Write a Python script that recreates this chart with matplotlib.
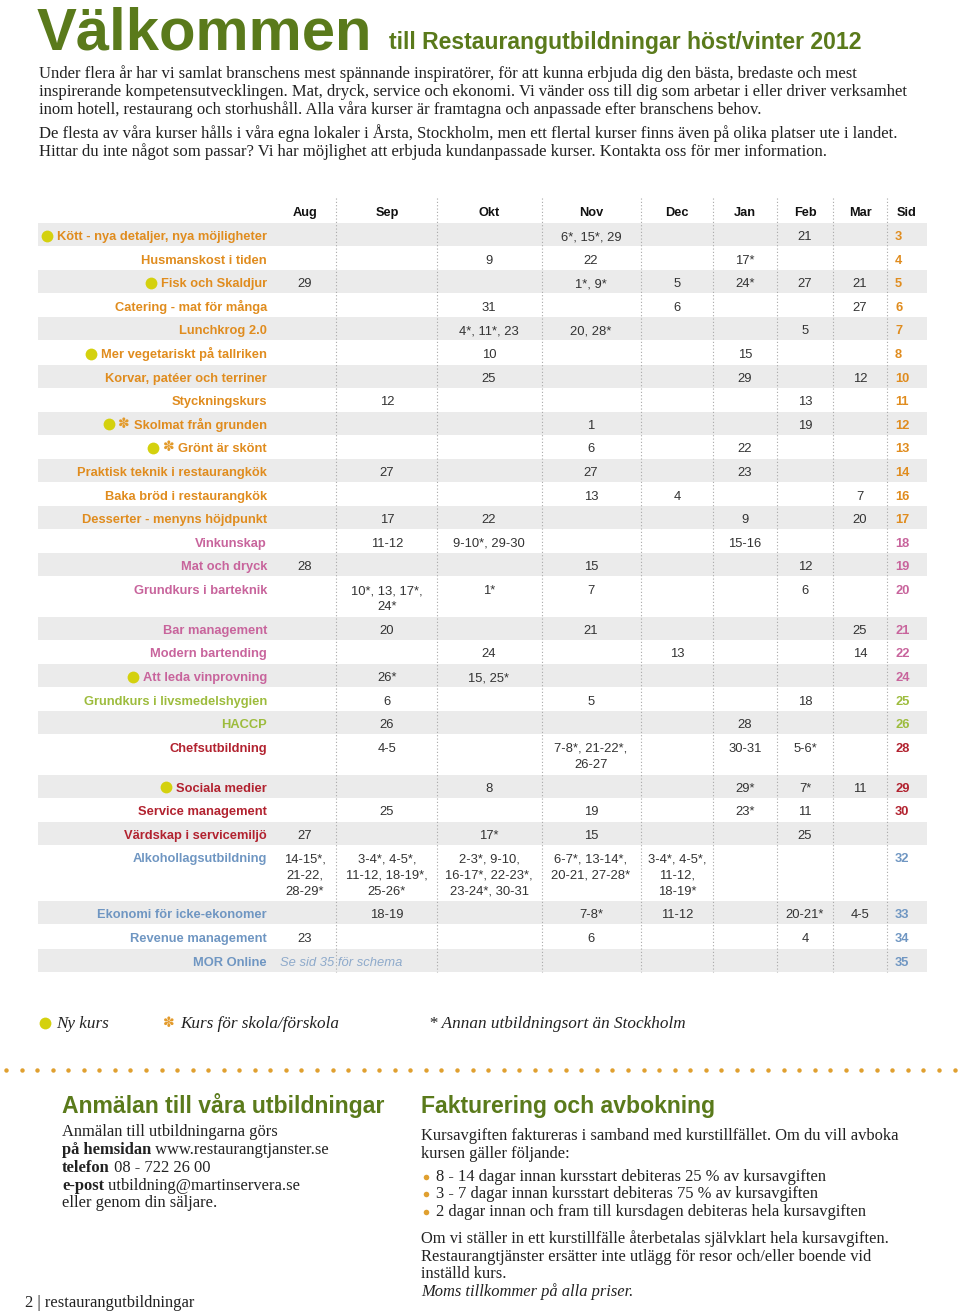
import matplotlib.pyplot as plt
import numpy as np
from matplotlib.patches import Rectangle

# ---- data ----
months = ["Aug", "Sep", "Okt", "Nov", "Dec", "Jan", "Feb", "Mar"]

courses = [
    "Kött - nya detaljer, nya möjligheter", "Husmanskost i tiden", "Fisk och Skaldjur",
    "Catering - mat för många", "Lunchkrog 2.0", "Mer vegetariskt på tallriken",
    "Korvar, patéer och terriner", "Styckningskurs", "Skolmat från grunden",
    "Grönt är skönt", "Praktisk teknik i restaurangkök", "Baka bröd i restaurangkök",
    "Desserter - menyns höjdpunkt", "Vinkunskap", "Mat och dryck",
    "Grundkurs i barteknik", "Bar management", "Modern bartending",
    "Att leda vinprovning", "Grundkurs i livsmedelshygien", "HACCP",
    "Chefsutbildning", "Sociala medier", "Service management",
    "Värdskap i servicemiljö", "Alkohollagsutbildning", "Ekonomi för icke-ekonomer",
    "Revenue management", "MOR Online",
]

groups = (["mat"] * 13 + ["dryck"] * 6 + ["hygien"] * 2 + ["ledare"] * 4
          + ["ekonomi"] * 4)

pages = ["3", "4", "5", "6", "7", "8", "10", "11", "12", "13", "14", "16", "17",
         "18", "19", "20", "21", "22", "24", "25", "26", "28", "29", "30", "",
         "32", "33", "34", "35"]

new_courses = ["Kött - nya detaljer, nya möjligheter", "Fisk och Skaldjur",
               "Mer vegetariskt på tallriken", "Skolmat från grunden",
               "Grönt är skönt", "Att leda vinprovning", "Sociala medier"]
school_courses = ["Skolmat från grunden", "Grönt är skönt"]

dates = [
    ["", "", "", "6*, 15*, 29", "", "", "21", ""],
    ["", "", "9", "22", "", "17*", "", ""],
    ["29", "", "", "1*, 9*", "5", "24*", "27", "21"],
    ["", "", "31", "", "6", "", "", "27"],
    ["", "", "4*, 11*, 23", "20, 28*", "", "", "5", ""],
    ["", "", "10", "", "", "15", "", ""],
    ["", "", "25", "", "", "29", "", "12"],
    ["", "12", "", "", "", "", "13", ""],
    ["", "", "", "1", "", "", "19", ""],
    ["", "", "", "6", "", "22", "", ""],
    ["", "27", "", "27", "", "23", "", ""],
    ["", "", "", "13", "4", "", "", "7"],
    ["", "17", "22", "", "", "9", "", "20"],
    ["", "11-12", "9-10*, 29-30", "", "", "15-16", "", ""],
    ["28", "", "", "15", "", "", "12", ""],
    ["", "10*, 13, 17*,\n24*", "1*", "7", "", "", "6", ""],
    ["", "20", "", "21", "", "", "", "25"],
    ["", "", "24", "", "13", "", "", "14"],
    ["", "26*", "15, 25*", "", "", "", "", ""],
    ["", "6", "", "5", "", "", "18", ""],
    ["", "26", "", "", "", "28", "", ""],
    ["", "4-5", "", "7-8*, 21-22*,\n26-27", "", "30-31", "5-6*", ""],
    ["", "", "8", "", "", "29*", "7*", "11"],
    ["", "25", "", "19", "", "23*", "11", ""],
    ["27", "", "17*", "15", "", "", "25", ""],
    ["14-15*,\n21-22,\n28-29*", "3-4*, 4-5*,\n11-12, 18-19*,\n25-26*",
     "2-3*, 9-10,\n16-17*, 22-23*,\n23-24*, 30-31", "6-7*, 13-14*,\n20-21, 27-28*",
     "3-4*, 4-5*,\n11-12,\n18-19*", "", "", ""],
    ["", "18-19", "", "7-8*", "11-12", "", "20-21*", "4-5"],
    ["23", "", "", "6", "", "", "4", ""],
    ["", "", "", "", "", "", "", ""],
]
mor_note = "Se sid 35 för schema"

intro = [
    "Under flera år har vi samlat branschens mest spännande inspiratörer, för att kunna erbjuda dig den bästa, bredaste och mest",
    "inspirerande kompetensutvecklingen. Mat, dryck, service och ekonomi. Vi vänder oss till dig som arbetar i eller driver verksamhet",
    "inom hotell, restaurang och storhushåll. Alla våra kurser är framtagna och anpassade efter branschens behov.",
    "De flesta av våra kurser hålls i våra egna lokaler i Årsta, Stockholm, men ett flertal kurser finns även på olika platser ute i landet.",
    "Hittar du inte något som passar? Vi har möjlighet att erbjuda kundanpassade kurser. Kontakta oss för mer information.",
]

# ---- style ----
SANS = "Liberation Sans"
SERIF = "Liberation Serif"
OLIVE = "#5a7a1b"
TXT = "#333333"
colors = {"mat": "#e08c1e", "dryck": "#c8649c", "hygien": "#9dbc3d",
          "ledare": "#b2222f", "ekonomi": "#6f96c2"}
YELLOW = "#d4d10e"
FLOWER = "#e39a2a"

W, H = 960, 1312
fig = plt.figure(figsize=(9.6, 13.12), dpi=100)
ax = fig.add_axes([0, 0, 1, 1])
ax.set_xlim(0, W)
ax.set_ylim(H, 0)
ax.axis("off")
renderer = fig.canvas.get_renderer()


def width_of(t):
    return t.get_window_extent(renderer).width


def rich(x, y, parts, size=11.85, color="#222222"):
    for s, kw in parts:
        t = ax.text(x, y, s, fontsize=size, family=SERIF, color=color,
                    va="baseline", **kw)
        x += width_of(t)


# ---- header ----
ax.text(37, 49, "Välkommen", fontsize=43, family=SANS, fontweight="bold",
        color=OLIVE, va="baseline")
ax.text(389, 49, "till Restaurangutbildningar höst/vinter 2012", fontsize=16.6,
        family=SANS, fontweight="bold", color=OLIVE, va="baseline")
for line, yb in zip(intro, [78, 96, 114, 138, 156]):
    ax.text(39, yb, line, fontsize=11.95, family=SERIF, color="#222222",
            va="baseline")

# ---- table ----
col_x = [305, 387, 489, 591, 677, 745, 805, 860]
dividers = [336, 437, 542, 641, 713, 777, 833, 887]
label_right = 267
sid_x = 895
row_h, line_h = 23.6, 16.2

for m, cx in zip(months, col_x):
    ax.text(cx, 216, m, fontsize=9.2, family=SANS, fontweight="bold",
            color="#111111", ha="center", va="baseline")
ax.text(907, 216, "Sid", fontsize=9.2, family=SANS, fontweight="bold",
        color="#111111", ha="center", va="baseline")

top = 223.0
for i, (name, grp, page, cells) in enumerate(zip(courses, groups, pages, dates)):
    nlines = max(c.count("\n") + 1 for c in cells)
    h = row_h + line_h * (nlines - 1)
    if i % 2 == 0:
        ax.add_patch(Rectangle((38, top), 889, h - 0.6, facecolor="#ebebeb",
                               edgecolor="none", zorder=0))
    yb = top + 17
    col = colors[grp]
    t = ax.text(label_right, yb, name, fontsize=9.3, family=SANS,
                fontweight="bold", color=col, ha="right", va="baseline")
    left = label_right - width_of(t)
    mark_x = left - 10
    if name in school_courses:
        ax.text(mark_x, yb - 5, "✽", fontsize=10, family="DejaVu Sans",
                color=FLOWER, ha="center", va="center")
        mark_x -= 15
    if name in new_courses:
        ax.plot(mark_x, yb - 4.5, "o", ms=8.5, color=YELLOW, mec="none")
    for cx, c in zip(col_x, cells):
        for k, part in enumerate(c.split("\n")):
            ax.text(cx, yb + k * line_h, part, fontsize=9.4, family=SANS,
                    color=TXT, ha="center", va="baseline")
    if name == "MOR Online":
        ax.text(280, yb, mor_note, fontsize=9.4, family=SANS, style="italic",
                color="#8eaacb", va="baseline")
    ax.text(sid_x, yb, page, fontsize=9.3, family=SANS, fontweight="bold",
            color=col, va="baseline")
    top += h

for dx in dividers:
    ax.plot([dx, dx], [198, top], color="#a8a8a8", lw=0.8,
            linestyle=(0, (1, 2)), zorder=1)

# ---- legend ----
ax.plot(45, 1023, "o", ms=8.5, color=YELLOW, mec="none")
ax.text(56, 1028, "Ny kurs", fontsize=12.3, family=SERIF, style="italic",
        color="#222222", va="baseline")
ax.text(169, 1023, "✽", fontsize=10, family="DejaVu Sans", color=FLOWER,
        ha="center", va="center")
ax.text(180, 1028, "Kurs för skola/förskola", fontsize=12.3, family=SERIF,
        style="italic", color="#222222", va="baseline")
ax.text(429, 1028, "* Annan utbildningsort än Stockholm", fontsize=12.3,
        family=SERIF, style="italic", color="#222222", va="baseline")

dots = np.arange(6, 958, 15.55)
ax.plot(dots, np.full_like(dots, 1070), "o", ms=3.2, color="#e0a030", mec="none")

# ---- bottom sections ----
ax.text(62, 1113, "Anmälan till våra utbildningar", fontsize=16.6, family=SANS,
        fontweight="bold", color=OLIVE, va="baseline")
rich(62, 1136, [("Anmälan till utbildningarna görs", {})])
rich(62, 1154, [("på hemsidan", {"fontweight": "bold"}),
                (" www.restaurangtjanster.se", {})])
rich(62, 1172, [("telefon", {"fontweight": "bold"}), (" 08 - 722 26 00", {})])
rich(62, 1190, [("e-post", {"fontweight": "bold"}),
                (" utbildning@martinservera.se", {})])
rich(62, 1207, [("eller genom din säljare.", {})])
rich(25, 1307, [("2 | restaurangutbildningar", {})])

ax.text(421, 1113, "Fakturering och avbokning", fontsize=16.6, family=SANS,
        fontweight="bold", color=OLIVE, va="baseline")
rich(421, 1140, [("Kursavgiften faktureras i samband med kurstillfället. Om du vill avboka", {})])
rich(421, 1158, [("kursen gäller följande:", {})])
bullets = ["8 - 14 dagar innan kursstart debiteras 25 % av kursavgiften",
           "3 - 7 dagar innan kursstart debiteras 75 % av kursavgiften",
           "2 dagar innan och fram till kursdagen debiteras hela kursavgiften"]
for b, yb in zip(bullets, [1181, 1198, 1216]):
    ax.plot(426, yb - 4, "o", ms=4, color="#e0a030", mec="none")
    rich(436, yb, [(b, {})])
rich(421, 1243, [("Om vi ställer in ett kurstillfälle återbetalas självklart hela kursavgiften.", {})])
rich(421, 1261, [("Restaurangtjänster ersätter inte utlägg för resor och/eller boende vid", {})])
rich(421, 1278, [("inställd kurs.", {})])
rich(421, 1296, [("Moms tillkommer på alla priser.", {"style": "italic"})])

fig.savefig("out.png", dpi=100)
